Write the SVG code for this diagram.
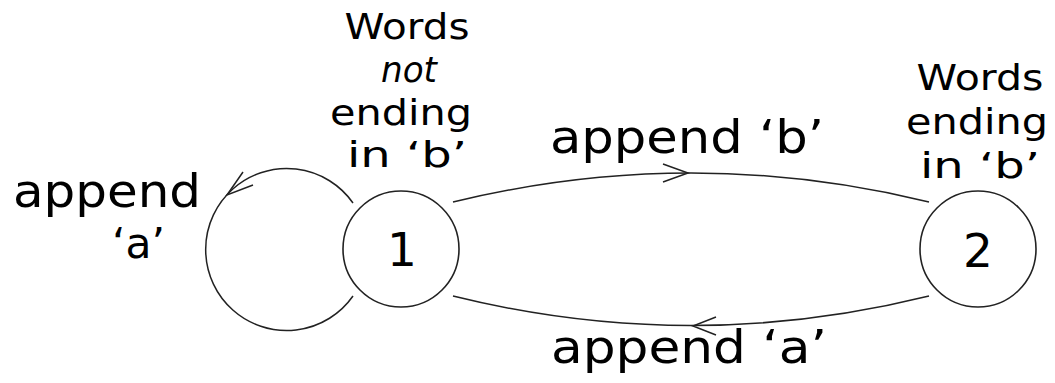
<svg xmlns="http://www.w3.org/2000/svg" width="1055" height="383" viewBox="0 0 1055 383">
<style>
  .bg { fill: #ffffff; }
  .node { fill: none; stroke: #222; stroke-width: 1.6; }
  .edge { fill: none; stroke: #222; stroke-width: 1.5; }
  .head { fill: none; stroke: #222; stroke-width: 1.5; }
  .t { font-family: "DejaVu Sans", "Liberation Sans", sans-serif; fill: #000; }
  .el { font-size: 47px; }
  .el2 { font-size: 43px; }
  .nl { font-size: 36px; text-anchor: middle; }
  .num { font-size: 47px; text-anchor: middle; }
</style>
<rect class="bg" x="0" y="0" width="1055" height="383"/>
<g id="connectors">
  <g id="loop-1">
    <path class="edge" d="M353,203 A81,81 0 1 0 353,296"/>
    <polyline class="head" points="243,172 227,195 253,185"/>
    <text class="t el" x="13" y="207" textLength="188" lengthAdjust="spacingAndGlyphs">append</text>
    <text class="t el2" x="112" y="258" textLength="53" lengthAdjust="spacingAndGlyphs">‘a’</text>
  </g>
  <g id="edge-1-2">
    <path class="edge" d="M453,202 Q691,144 929,202"/>
    <polyline class="head" points="663,164 688,173 663,182"/>
    <text class="t el" x="550" y="153" textLength="274" lengthAdjust="spacingAndGlyphs">append ‘b’</text>
  </g>
  <g id="edge-2-1">
    <path class="edge" d="M453,296 Q691,355 929,296"/>
    <polyline class="head" points="716,317 693,326 716,335"/>
    <text class="t el" x="551" y="363" textLength="276" lengthAdjust="spacingAndGlyphs">append ‘a’</text>
  </g>
</g>
<g id="node-1">
  <circle class="node" cx="401" cy="249" r="58"/>
  <text class="t num" x="402" y="266">1</text>
  <text class="t nl" x="407" y="39" textLength="125" lengthAdjust="spacingAndGlyphs">Words</text>
  <text class="t nl" x="409" y="82" font-style="italic" textLength="56" lengthAdjust="spacingAndGlyphs">not</text>
  <text class="t nl" x="401" y="125" textLength="142" lengthAdjust="spacingAndGlyphs">ending</text>
  <text class="t nl" x="407" y="167" textLength="120" lengthAdjust="spacingAndGlyphs">in ‘b’</text>
</g>
<g id="node-2">
  <circle class="node" cx="978" cy="249" r="58"/>
  <text class="t num" x="978" y="267">2</text>
  <text class="t nl" x="980" y="90" textLength="127" lengthAdjust="spacingAndGlyphs">Words</text>
  <text class="t nl" x="977" y="134" textLength="142" lengthAdjust="spacingAndGlyphs">ending</text>
  <text class="t nl" x="980" y="178" textLength="120" lengthAdjust="spacingAndGlyphs">in ‘b’</text>
</g>
</svg>
